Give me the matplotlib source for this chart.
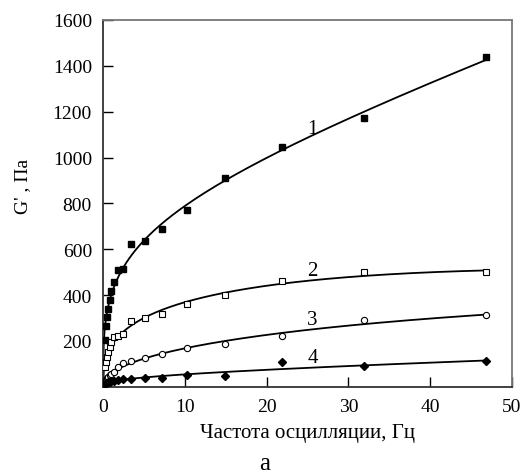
"""Frequency dependence of storage modulus G' for four samples."""

import matplotlib
matplotlib.use("Agg")
import matplotlib.pyplot as plt
import numpy as np

plt.rcParams["font.family"] = ["Liberation Serif", "DejaVu Serif"]

# частота, Гц
freq = [0.2, 0.35, 0.5, 0.65, 0.8, 1.0, 1.3, 1.8, 2.5, 3.4, 5.1, 7.2,
        10.3, 14.9, 21.9, 31.9, 46.8]

# G', Па
g1 = [203, 266, 305, 341, 378, 419, 458, 509, 516, 621, 637, 687,
      771, 910, 1045, 1172, 1440]
g2 = [86, 108, 130, 152, 174, 196, 217, 222, 232, 286, 298, 319,
      359, 400, 461, 499, 499]
g3 = [22, 30, 38, 44, 50, 57, 66, 86, 105, 112, 127, 144,
      169, 188, 222, 290, 312]
g4 = [12, 16, 18, 20, 22, 24, 27, 30, 33, 35, 38, 39,
      52, 47, 108, 89, 111]

curve_labels = ["1", "2", "3", "4"]
label_pos = [(25.6, 1107), (25.6, 486), (25.6, 276), (25.6, 109)]

xticks = [0, 10, 20, 30, 40, 50]
yticks = [200, 400, 600, 800, 1000, 1200, 1400, 1600]


def fit_curve(x, y, p=1 / 3, deg=3):
    # МНК-полином по f**p без свободного члена: кривая выходит из нуля
    x = np.asarray(x, dtype=float)
    u = x ** p
    A = np.column_stack([u ** k for k in range(1, deg + 1)])
    coef, *_ = np.linalg.lstsq(A, np.asarray(y, dtype=float), rcond=None)
    xs = np.linspace(0, x.max(), 500)
    us = xs ** p
    ys = sum(c * us ** (k + 1) for k, c in enumerate(coef))
    return xs, ys


fig = plt.figure(figsize=(5.27, 4.77), dpi=100)
ax = fig.add_axes([0.1955, 0.187, 0.776, 0.769])

styles = [
    dict(marker="s", ms=5, mfc="black", mec="black"),
    dict(marker="s", ms=5, mfc="white", mec="black", mew=0.8),
    dict(marker="o", ms=4.5, mfc="white", mec="black", mew=0.8),
    dict(marker="D", ms=4, mfc="black", mec="black"),
]

for y, st in zip([g1, g2, g3, g4], styles):
    xs, ys = fit_curve(freq, y)
    ax.plot(xs, ys, color="black", lw=1.3, zorder=2)
    ax.plot(freq, y, ls="none", zorder=3, **st)

for txt, (lx, ly) in zip(curve_labels, label_pos):
    ax.text(lx, ly, txt, fontsize=15, ha="center", va="baseline")

ax.set_xlim(0, 50)
ax.set_ylim(0, 1600)
ax.set_xticks(xticks)
ax.set_yticks(yticks)
ax.tick_params(direction="in", length=7, width=1, labelsize=14, pad=8,
               top=False, right=False)
for side in ["left", "bottom"]:
    ax.spines[side].set_linewidth(1.3)
    ax.spines[side].set_color("#333333")
for side in ["top", "right"]:
    ax.spines[side].set_linewidth(1.3)
    ax.spines[side].set_color("#777777")

ax.set_xlabel("Частота осцилляции, Гц", fontsize=15, labelpad=6)
ax.set_ylabel("G' , Па", fontsize=14)
ax.yaxis.set_label_coords(-0.175, 0.55)
fig.text(0.503, 0.028, "а", fontsize=18, ha="center", va="center")

fig.savefig("out.png", dpi=100)
